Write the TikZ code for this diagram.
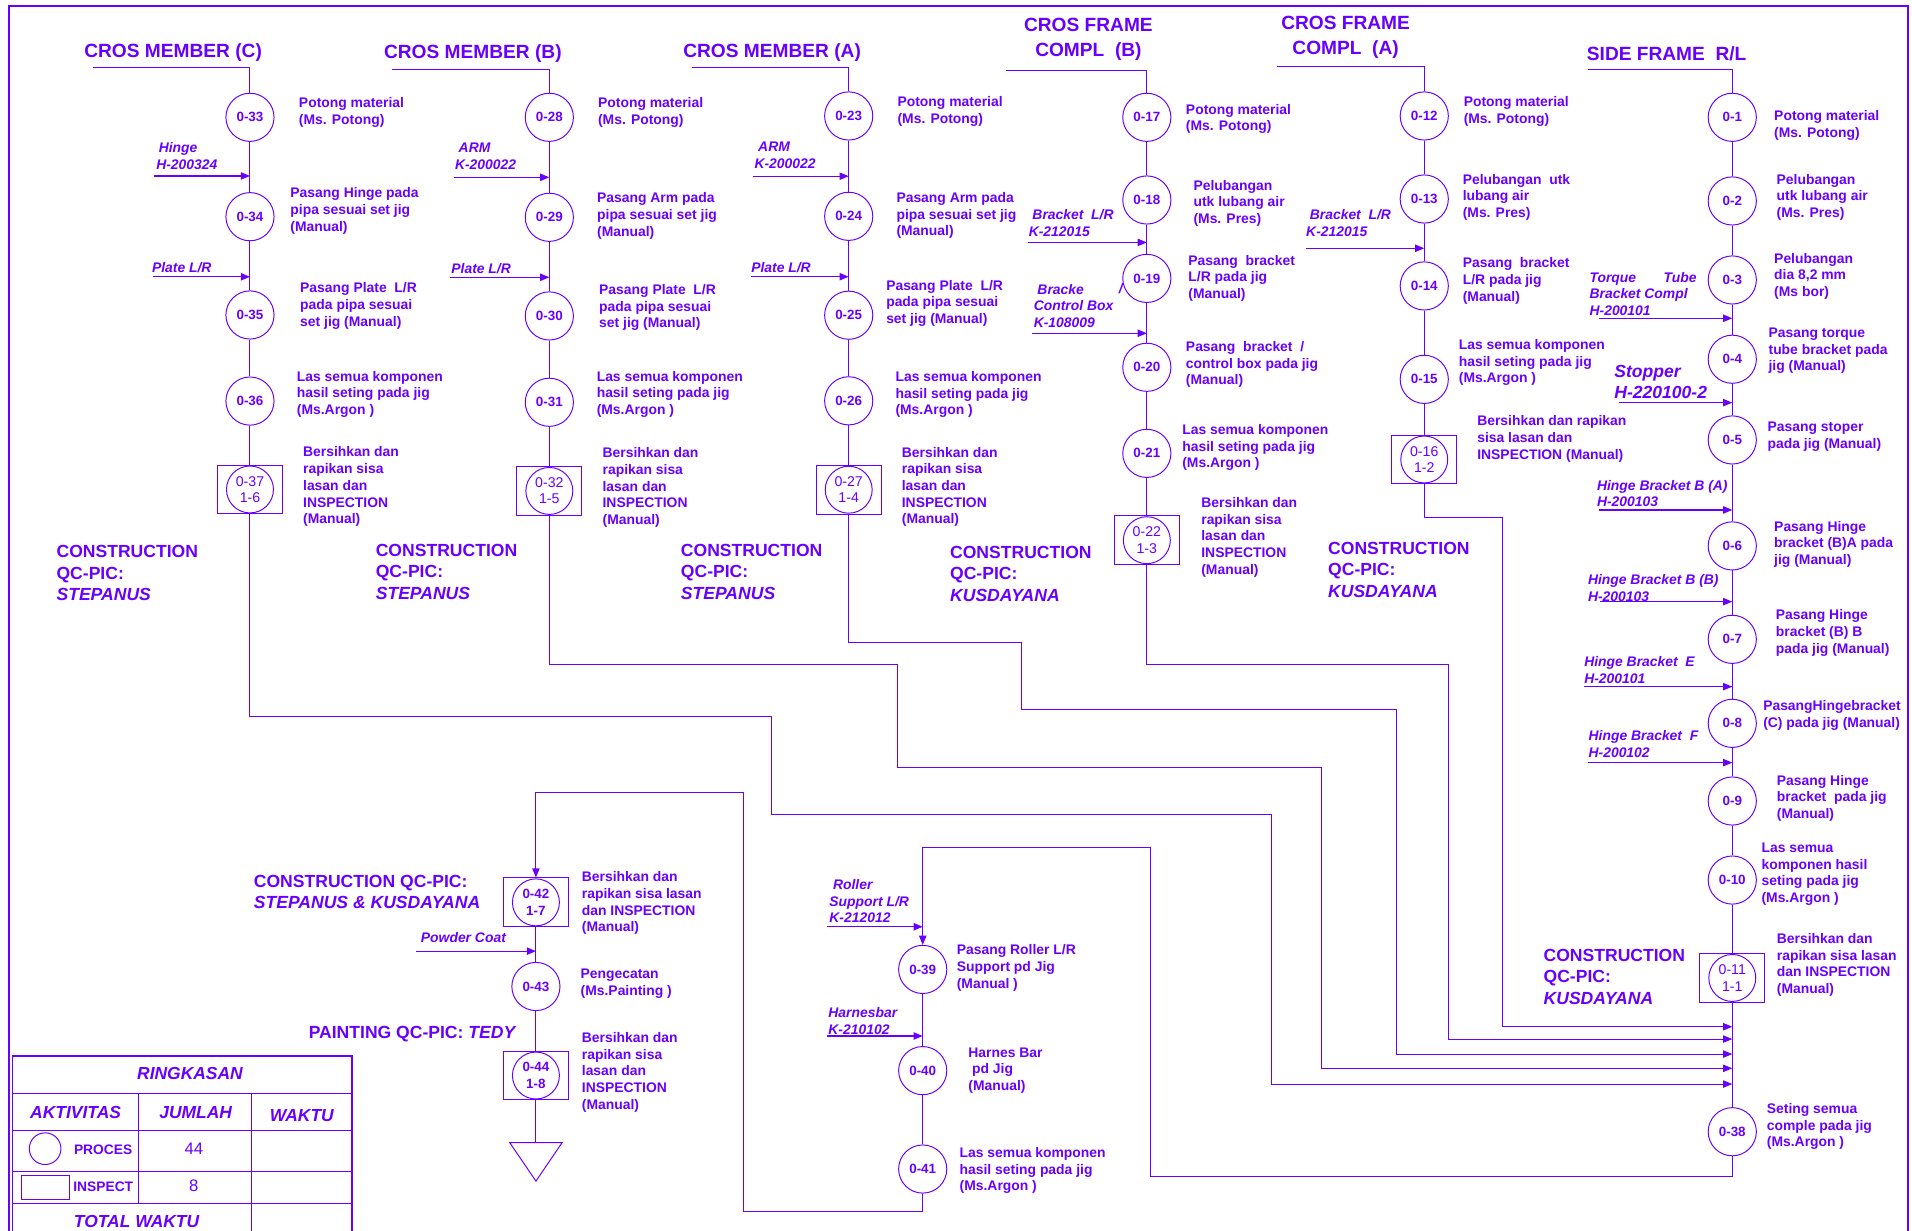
\documentclass[tikz,border=0pt]{standalone}
\usepackage{fontspec}
\setmainfont{Liberation Sans}
\usetikzlibrary{arrows.meta}
\definecolor{pc}{RGB}{104,0,255}
\begin{document}
\begin{tikzpicture}[x=1pt,y=-1pt,
  ln/.style={draw=pc, line width=0.8pt},
  arr/.style={draw=pc, line width=1pt, -{Triangle[length=7.5pt,width=6pt]}},
  route/.style={draw=pc, line width=0.8pt, -{Triangle[length=7.5pt,width=6pt]}},
  proc/.style={circle, draw=pc, line width=0.8pt, minimum size=39.5pt, inner sep=0pt, text=pc, font=\fontsize{11}{13}\selectfont\bfseries},
  ibox/.style={rectangle, draw=pc, line width=0.8pt, minimum width=53.5pt, minimum height=40pt, inner sep=0pt},
  icirc/.style={circle, draw=pc, line width=0.8pt, minimum size=38.5pt, inner sep=0pt, align=center, text=pc, font=\fontsize{11.6}{13.4}\selectfont},
  icircb/.style={icirc, font=\fontsize{11}{13.4}\selectfont\bfseries},
  txt/.style={anchor=west, inner sep=0pt, yshift=-0.8pt, align=left, text=pc, font=\fontsize{11.4}{13.7}\selectfont\bfseries},
  lbl/.style={txt, font=\fontsize{11.4}{13.7}\selectfont\bfseries\itshape},
  big/.style={txt, font=\fontsize{14.4}{17}\selectfont\bfseries\itshape},
  qc/.style={txt, font=\fontsize{14.4}{17.5}\selectfont\bfseries},
  ttl/.style={inner sep=0pt, align=center, text=pc, font=\fontsize{15.7}{20.5}\selectfont\bfseries},
  tbh/.style={inner sep=0pt, text=pc, font=\fontsize{14.3}{16}\selectfont\bfseries\itshape},
  tbn/.style={inner sep=0pt, text=pc, font=\fontsize{13.7}{16}\selectfont},
  tbs/.style={anchor=west, inner sep=0pt, text=pc, font=\fontsize{11.3}{13}\selectfont\bfseries},
  tl/.style={draw=pc, line width=1pt}
]
\useasboundingbox (0,0) rectangle (1568,1009.5);
\clip (0,0) rectangle (1568,1009.5);
% outer frame
\draw[draw=pc, line width=1.8pt] (7.4,1030) -- (7.4,4.8) -- (1565,4.8) -- (1565,1030);

% ================= titles =================
\node[ttl] (ttlC) at (142,43.2) {CROS MEMBER (C)};
\node[ttl] (ttlB) at (387.8,43.7) {CROS MEMBER (B)};
\node[ttl] (ttlA) at (633.2,43.1) {CROS MEMBER (A)};
\node[ttl] (ttlFB) at (892.6,32.1) {CROS FRAME\\COMPL~ (B)};
\node[ttl] (ttlFA) at (1103.5,30.7) {CROS FRAME\\COMPL~ (A)};
\node[ttl] (ttlS) at (1366.8,44.3) {SIDE FRAME~ R/L};

\coordinate (tC) at (76.3,55.2);
\coordinate (tB) at (321.3,56.6);
\coordinate (tA) at (567.2,55.2);
\coordinate (tFB) at (824.6,57.4);
\coordinate (tFA) at (1047.4,54.4);
\coordinate (tS) at (1302.6,56.6);

% ================= column C =================
\node[proc] (n33) at (205,96.2) {0-33};
\node[proc] (n34) at (205,177.7) {0-34};
\node[proc] (n35) at (205,258.3) {0-35};
\node[proc] (n36) at (205,328.9) {0-36};
\node[ibox] (b37) at (205,401.4) {};
\node[icirc] (n37) at (b37) {0-37\\1-6};
\node[txt] (t33) at (245,91.2) {Potong material\\(Ms. Potong)};
\node[txt] (t34) at (238,172) {Pasang Hinge pada\\pipa sesuai set jig\\(Manual)};
\node[txt] (t35) at (246,250.1) {Pasang Plate~ L/R\\pada pipa sesuai\\set jig (Manual)};
\node[txt] (t36) at (243.3,322.5) {Las semua komponen\\hasil seting pada jig\\(Ms.Argon )};
\node[txt] (t37) at (248.4,398.4) {Bersihkan dan\\rapikan sisa\\lasan dan\\INSPECTION\\(Manual)};
\node[lbl] (L34) at (128,127.2) {\hspace{2pt}Hinge\\H-200324};
\node[lbl] (L35) at (124.5,218.7) {Plate L/R};
\node[qc] (qcC) at (46.2,469.3) {CONSTRUCTION\\QC-PIC:\\\textit{STEPANUS}};
\coordinate (a34) at (126,144.3);
\coordinate (a35) at (125.5,227);
\draw[ln] (tC) -| (n33);
\draw[ln] (n33) -- (n34);
\draw[ln] (n34) -- (n35);
\draw[ln] (n35) -- (n36);
\draw[ln] (n36) -- (b37);
\draw[arr] (a34) -- (a34 -| n33);
\draw[arr] (a35) -- (a35 -| n33);

% ================= column B =================
\node[proc] (n28) at (450.5,96.2) {0-28};
\node[proc] (n29) at (450.5,178.2) {0-29};
\node[proc] (n30) at (450.5,259.1) {0-30};
\node[proc] (n31) at (450.5,329.9) {0-31};
\node[ibox] (b32) at (450.5,402.6) {};
\node[icirc] (n32) at (b32) {0-32\\1-5};
\node[txt] (t28) at (490.3,91.2) {Potong material\\(Ms. Potong)};
\node[txt] (t29) at (489.5,176.3) {Pasang Arm pada\\pipa sesuai set jig\\(Manual)};
\node[txt] (t30) at (491.2,251.4) {Pasang Plate~ L/R\\pada pipa sesuai\\set jig (Manual)};
\node[txt] (t31) at (489.2,322.5) {Las semua komponen\\hasil seting pada jig\\(Ms.Argon )};
\node[txt] (t32) at (494,399) {Bersihkan dan\\rapikan sisa\\lasan dan\\INSPECTION\\(Manual)};
\node[lbl] (L29) at (373,127.4) {\hspace{3pt}ARM\\K-200022};
\node[lbl] (L30) at (370,219.3) {Plate L/R};
\node[qc] (qcB) at (308,468.1) {CONSTRUCTION\\QC-PIC:\\\textit{STEPANUS}};
\coordinate (a29) at (372.2,145.4);
\coordinate (a30) at (369,227.4);
\draw[ln] (tB) -| (n28);
\draw[ln] (n28) -- (n29);
\draw[ln] (n29) -- (n30);
\draw[ln] (n30) -- (n31);
\draw[ln] (n31) -- (b32);
\draw[arr] (a29) -- (a29 -| n28);
\draw[arr] (a30) -- (a30 -| n28);

% ================= column A =================
\node[proc] (n23) at (696,95.1) {0-23};
\node[proc] (n24) at (696,177.4) {0-24};
\node[proc] (n25) at (696,258.5) {0-25};
\node[proc] (n26) at (696,328.7) {0-26};
\node[ibox] (b27) at (696,401.6) {};
\node[icirc] (n27) at (b27) {0-27\\1-4};
\node[txt] (t23) at (735.9,90.8) {Potong material\\(Ms. Potong)};
\node[txt] (t24) at (735,176) {Pasang Arm pada\\pipa sesuai set jig\\(Manual)};
\node[txt] (t25) at (726.6,248) {Pasang Plate~ L/R\\pada pipa sesuai\\set jig (Manual)};
\node[txt] (t26) at (734.2,322.7) {Las semua komponen\\hasil seting pada jig\\(Ms.Argon )};
\node[txt] (t27) at (739.4,398.5) {Bersihkan dan\\rapikan sisa\\lasan dan\\INSPECTION\\(Manual)};
\node[lbl] (L24) at (618.6,126.5) {\hspace{3pt}ARM\\K-200022};
\node[lbl] (L25) at (615.9,218.6) {Plate L/R};
\node[qc] (qcA) at (558.2,468.1) {CONSTRUCTION\\QC-PIC:\\\textit{STEPANUS}};
\coordinate (a24) at (617.8,144.5);
\coordinate (a25) at (615.9,226.9);
\draw[ln] (tA) -| (n23);
\draw[ln] (n23) -- (n24);
\draw[ln] (n24) -- (n25);
\draw[ln] (n25) -- (n26);
\draw[ln] (n26) -- (b27);
\draw[arr] (a24) -- (a24 -| n23);
\draw[arr] (a25) -- (a25 -| n23);

% ================= cros frame compl (B) =================
\node[proc] (n17) at (940.5,96.2) {0-17};
\node[proc] (n18) at (940.5,164) {0-18};
\node[proc] (n19) at (940.5,228.3) {0-19};
\node[proc] (n20) at (940.5,301.2) {0-20};
\node[proc] (n21) at (940.5,371.8) {0-21};
\node[ibox] (b22) at (940.5,443) {};
\node[icirc] (n22) at (b22) {0-22\\1-3};
\node[txt] (t17) at (972.4,96.8) {Potong material\\(Ms. Potong)};
\node[txt] (t18) at (978.6,166) {Pelubangan\\utk lubang air\\(Ms. Pres)};
\node[txt] (t19) at (974.4,227.3) {Pasang~ bracket\\L/R pada jig\\(Manual)};
\node[txt] (t20) at (972.4,298.1) {Pasang~ bracket~ /\\control box pada jig\\(Manual)};
\node[txt] (t21) at (969.4,366.3) {Las semua komponen\\hasil seting pada jig\\(Ms.Argon )};
\node[txt] (t22) at (985,439.7) {Bersihkan dan\\rapikan sisa\\lasan dan\\INSPECTION\\(Manual)};
\node[lbl] (L18) at (843.5,182.2) {\hspace{3pt}Bracket~ L/R\\K-212015};
\node[lbl] (L19) at (847.6,250.1) {\hspace{3pt}Bracke\\Control Box\\K-108009};
\node[lbl] (S19) at (917.3,235.7) {/};
\node[qc] (qcFB) at (779,469.8) {CONSTRUCTION\\QC-PIC:\\\textit{KUSDAYANA}};
\coordinate (a18) at (843.4,198.8);
\coordinate (a19) at (846.7,273.3);
\draw[ln] (tFB) -| (n17);
\draw[ln] (n17) -- (n18);
\draw[ln] (n18) -- (n19);
\draw[ln] (n19) -- (n20);
\draw[ln] (n20) -- (n21);
\draw[ln] (n21) -- (b22);
\draw[arr] (a18) -- (a18 -| n17);
\draw[arr] (a19) -- (a19 -| n17);

% ================= cros frame compl (A) =================
\node[proc] (n12) at (1168,95.1) {0-12};
\node[proc] (n13) at (1168,163.2) {0-13};
\node[proc] (n14) at (1168,234.5) {0-14};
\node[proc] (n15) at (1168,311.1) {0-15};
\node[ibox] (b16) at (1168,376.8) {};
\node[icirc] (n16) at (b16) {0-16\\1-2};
\node[txt] (t12) at (1200.2,90.5) {Potong material\\(Ms. Potong)};
\node[txt] (t13) at (1199.4,161) {Pelubangan~ utk\\lubang air\\(Ms. Pres)};
\node[txt] (t14) at (1199.4,229.6) {Pasang~ bracket\\L/R pada jig\\(Manual)};
\node[txt] (t15) at (1196.2,296.5) {Las semua komponen\\hasil seting pada jig\\(Ms.Argon )};
\node[txt] (t16) at (1211.3,359.3) {Bersihkan dan rapikan\\sisa lasan dan\\INSPECTION (Manual)};
\node[lbl] (L13) at (1071,182) {\hspace{3pt}Bracket~ L/R\\K-212015};
\node[qc] (qcFA) at (1089,466.5) {CONSTRUCTION\\QC-PIC:\\\textit{KUSDAYANA}};
\coordinate (a13) at (1071,203.6);
\draw[ln] (tFA) -| (n12);
\draw[ln] (n12) -- (n13);
\draw[ln] (n13) -- (n14);
\draw[ln] (n14) -- (n15);
\draw[ln] (n15) -- (b16);
\draw[arr] (a13) -- (a13 -| n12);

% ================= side frame R/L =================
\node[proc] (n1) at (1420.6,96.2) {0-1};
\node[proc] (n2) at (1420.6,164.8) {0-2};
\node[proc] (n3) at (1420.6,229.6) {0-3};
\node[proc] (n4) at (1420.6,294.6) {0-4};
\node[proc] (n5) at (1420.6,360.8) {0-5};
\node[proc] (n6) at (1420.6,447.7) {0-6};
\node[proc] (n7) at (1420.6,524.3) {0-7};
\node[proc] (n8) at (1420.6,593.2) {0-8};
\node[proc] (n9) at (1420.6,656.9) {0-9};
\node[proc] (n10) at (1420.6,721.7) {0-10};
\node[ibox] (b11) at (1420.6,802) {};
\node[icirc] (n11) at (b11) {0-11\\1-1};
\node[proc] (n38) at (1420.6,928.1) {0-38};
\node[txt] (t1) at (1454.8,101.8) {Potong material\\(Ms. Potong)};
\node[txt] (t2) at (1456.8,161) {Pelubangan\\utk lubang air\\(Ms. Pres)};
\node[txt] (t3) at (1454.8,225.8) {Pelubangan\\dia 8,2 mm\\(Ms bor)};
\node[txt] (t4) at (1450.2,287) {Pasang torque\\tube bracket pada\\jig (Manual)};
\node[txt] (t5) at (1449.4,357.4) {Pasang stoper\\pada jig (Manual)};
\node[txt] (t6) at (1454.8,445.6) {Pasang Hinge\\bracket (B)A pada\\jig (Manual)};
\node[txt] (t7) at (1456.2,518.2) {Pasang Hinge\\bracket (B) B\\pada jig (Manual)};
\node[txt] (t8) at (1445.8,586.1) {PasangHingebracket\\(C) pada jig (Manual)};
\node[txt] (t9) at (1457,653.8) {Pasang Hinge\\bracket~ pada jig\\(Manual)};
\node[txt] (t10) at (1444.4,716) {Las semua\\komponen hasil\\seting pada jig\\(Ms.Argon )};
\node[txt] (t11) at (1457,790.4) {Bersihkan dan\\rapikan sisa lasan\\dan INSPECTION\\(Manual)};
\node[txt] (t38) at (1448.8,923) {Seting semua\\comple pada jig\\(Ms.Argon )};
\node[lbl] (L4) at (1303.4,240.3) {Torque\hspace{22.5pt}Tube\\Bracket Compl\\H-200101};
\node[big] (L5) at (1323.7,312.7) {Stopper\\H-220100-2};
\node[lbl] (L6) at (1309.5,404) {Hinge Bracket B (A)\\H-200103};
\node[lbl] (L7) at (1302.1,481.2) {Hinge Bracket B (B)\\H-200103};
\node[lbl] (L8) at (1299,548.4) {Hinge Bracket~ E\\H-200101};
\node[lbl] (L9) at (1302.6,609.6) {Hinge Bracket~ F\\H-200102};
\node[qc] (qcS) at (1265.7,800.3) {CONSTRUCTION\\QC-PIC:\\\textit{KUSDAYANA}};
\coordinate (a4) at (1311.6,261);
\coordinate (a5) at (1327.3,330.2);
\coordinate (a6) at (1311.6,418.2);
\coordinate (a7) at (1312.1,493.4);
\coordinate (a8) at (1299,563.1);
\coordinate (a9) at (1302.6,625.4);
\draw[ln] (tS) -| (n1);
\draw[ln] (n1) -- (n2);
\draw[ln] (n2) -- (n3);
\draw[ln] (n3) -- (n4);
\draw[ln] (n4) -- (n5);
\draw[ln] (n5) -- (n6);
\draw[ln] (n6) -- (n7);
\draw[ln] (n7) -- (n8);
\draw[ln] (n8) -- (n9);
\draw[ln] (n9) -- (n10);
\draw[ln] (n10) -- (b11);
\draw[ln] (b11) -- (n38);
\draw[arr] (a4) -- (a4 -| n1);
\draw[arr] (a5) -- (a5 -| n1);
\draw[arr] (a6) -- (a6 -| n1);
\draw[arr] (a7) -- (a7 -| n1);
\draw[arr] (a8) -- (a8 -| n1);
\draw[arr] (a9) -- (a9 -| n1);

% ================= routes into the side frame line =================
\coordinate (r1a) at (1232.5,424.2);
\coordinate (r1c) at (1420.6,842);
\coordinate (r2a) at (1188,545.1);
\coordinate (r2c) at (1420.6,852.1);
\coordinate (r3a) at (838,526.8);
\coordinate (r3b) at (1145,581.7);
\coordinate (r3c) at (1420.6,864.4);
\coordinate (r4a) at (736,545.1);
\coordinate (r4b) at (1083.5,629.3);
\coordinate (r4c) at (1420.6,876.1);
\coordinate (r5a) at (633,587.2);
\coordinate (r5b) at (1043,667.8);
\coordinate (r5c) at (1420.6,889);
\draw[route] (b16) |- (r1a) |- (r1c);
\draw[route] (b22) |- (r2a) |- (r2c);
\draw[route] (b27) |- (r3a) |- (r3b) |- (r3c);
\draw[route] (b32) |- (r4a) |- (r4b) |- (r4c);
\draw[route] (b37) |- (r5a) |- (r5b) |- (r5c);

% ================= bottom middle column =================
\node[proc] (n39) at (756.7,795) {0-39};
\node[proc] (n40) at (756.7,878) {0-40};
\node[proc] (n41) at (756.7,958.7) {0-41};
\node[txt] (t39) at (784.5,793.1) {Pasang Roller L/R\\Support pd Jig\\(Manual )};
\node[txt] (t40) at (794,877) {Harnes Bar\\\hspace{3pt}pd Jig\\(Manual)};
\node[txt] (t41) at (786.8,959.1) {Las semua komponen\\hasil seting pada jig\\(Ms.Argon )};
\node[lbl] (L39) at (680,738.2) {\hspace{3pt}Roller\\Support L/R\\K-212012};
\node[lbl] (L40) at (679.2,836.5) {Harnesbar\\K-210102};
\coordinate (a39) at (678.4,760);
\coordinate (a40) at (678.4,849.6);
\coordinate (q1) at (943.6,965);
\coordinate (q2) at (756.7,695.2);
\draw[route] (n38) |- (q1) |- (q2) -- (n39);
\draw[arr] (a39) -- (a39 -| n39);
\draw[arr] (a40) -- (a40 -| n39);
\draw[ln] (n39) -- (n40);
\draw[ln] (n40) -- (n41);

% ================= bottom left column =================
\node[ibox] (b42) at (439.5,740) {};
\node[icircb] (n42) at (b42) {0-42\\1-7};
\node[proc] (n43) at (439.5,809) {0-43};
\node[ibox] (b44) at (439.5,882) {};
\node[icircb] (n44) at (b44) {0-44\\1-8};
\coordinate (endt) at (439.5,937);
\coordinate (endl) at (418,937);
\coordinate (endr) at (461,937);
\coordinate (endb) at (439.5,968.6);
\draw[ln] (endl) -- (endr) -- (endb) -- cycle;
\node[txt] (t42) at (477,740) {Bersihkan dan\\rapikan sisa lasan\\dan INSPECTION\\(Manual)};
\node[txt] (t43) at (476,806) {Pengecatan\\(Ms.Painting )};
\node[txt] (t44) at (477,878.5) {Bersihkan dan\\rapikan sisa\\lasan dan\\INSPECTION\\(Manual)};
\node[qc, font=\fontsize{14.4}{17}\selectfont\bfseries] (qc42) at (208,730.5) {CONSTRUCTION QC-PIC:\\\textit{STEPANUS \& KUSDAYANA}};
\node[lbl] (Lp) at (345,768) {Powder Coat};
\node[qc] (qcP) at (253,847) {PAINTING QC-PIC: \textit{TEDY}};
\coordinate (a43) at (341,780);
\coordinate (p1) at (610,993.6);
\coordinate (p2) at (439.5,650);
\draw[route] (n41) |- (p1) |- (p2) -- (b42);
\draw[arr] (a43) -- (a43 -| n43);
\draw[ln] (b42) -- (n43);
\draw[ln] (n43) -- (b44);
\draw[ln] (b44) -- (endt);

% ================= summary table =================
\draw[tl] (10.25,1030) -- (10.25,866) -- (288.6,866) -- (288.6,1030);
\draw[tl] (10.25,897) -- (288.6,897);
\draw[tl] (10.25,927) -- (288.6,927);
\draw[tl] (10.25,961) -- (288.6,961);
\draw[tl] (10.25,987) -- (288.6,987);
\draw[tl] (113.6,897) -- (113.6,987);
\draw[tl] (206.5,897) -- (206.5,1030);
\node[tbh] (tR) at (155.8,880) {RINGKASAN};
\node[tbh] (tAk) at (62,912) {AKTIVITAS};
\node[tbh] (tJ) at (160.5,912) {JUMLAH};
\node[tbh] (tW) at (247.5,915) {WAKTU};
\node[circle, draw=pc, line width=0.8pt, minimum size=26pt, inner sep=0pt] (sc) at (37,942) {};
\node[tbs] (tPr) at (60.5,943) {PROCES};
\node[tbn] (t44n) at (159,942) {44};
\node[rectangle, draw=pc, line width=0.8pt, minimum width=39.3pt, minimum height=20pt, inner sep=0pt] (sr) at (37.6,974) {};
\node[tbs] (tIn) at (60,973.5) {INSPECT};
\node[tbn] (t8n) at (159,972) {8};
\node[tbh] (tTot) at (112,1001.7) {TOTAL WAKTU};
\end{tikzpicture}
\end{document}
